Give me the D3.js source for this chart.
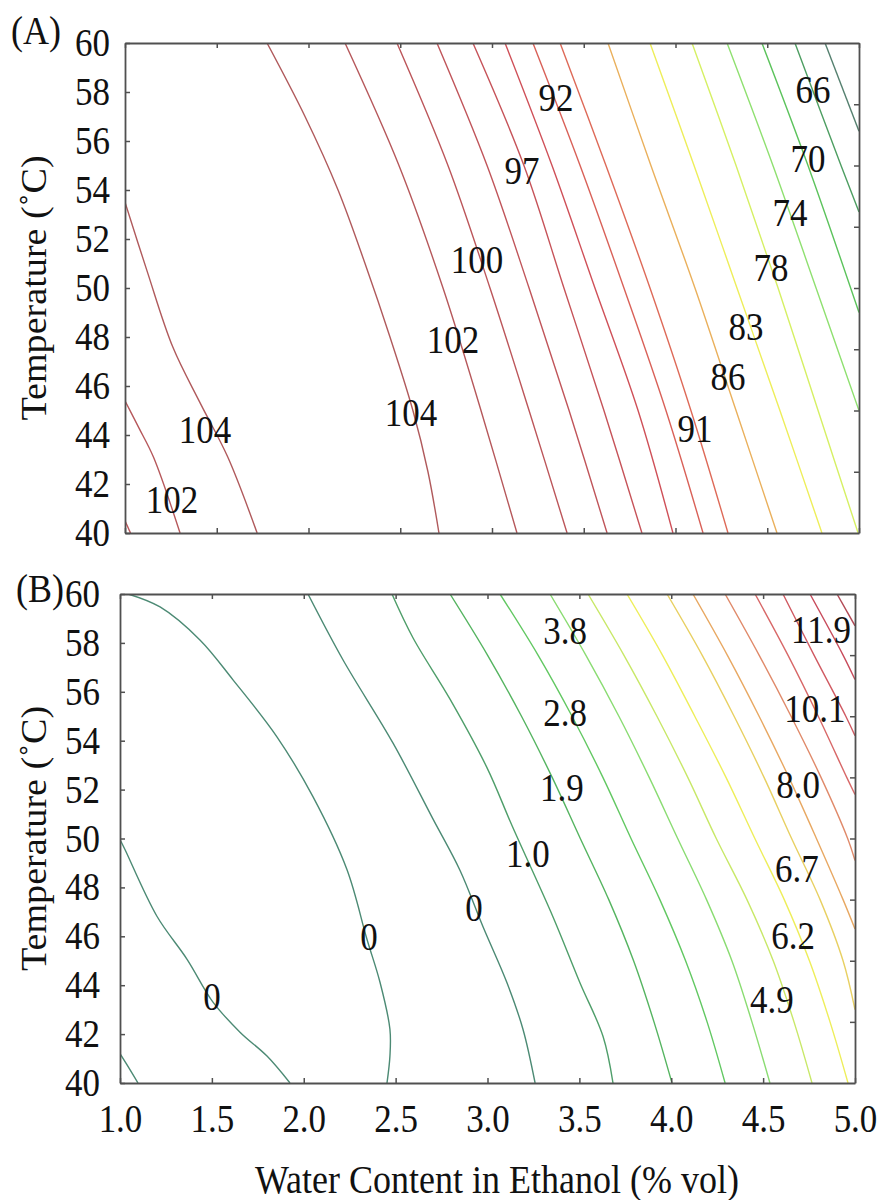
<!DOCTYPE html>
<html>
<head>
<meta charset="utf-8">
<script src="https://cdn.jsdelivr.net/npm/d3@7"></script>
<style>
  body { margin: 0; background: #fff; }
  svg { display: block; font-family: "Liberation Serif", "Times New Roman", serif; }
</style>
</head>
<body>
<svg id="chart" width="884" height="1200"></svg>
<script>
// axis ticks
const waterTicks = [1.0, 1.5, 2.0, 2.5, 3.0, 3.5, 4.0, 4.5, 5.0];
const tempTicks = [40, 42, 44, 46, 48, 50, 52, 54, 56, 58, 60];
const rightTicks = [42.5, 45, 47.5, 50, 52.5, 55, 57.5];

// (A) contour lines, points are [water content, temperature]
const contoursA = [
    { level: 100, pts: [[1.0, 40.5], [1.03, 40]] },
    { level: 102, pts: [[1.0, 45.4], [1.075, 44.3], [1.155, 43.1], [1.30, 40]] },
    { level: 104, pts: [[1.0, 53.5], [1.12, 50.7], [1.26, 47.6], [1.41, 45.3], [1.56, 43.1], [1.72, 40]] },
    { level: 104, pts: [[1.774, 60], [1.981, 57], [2.161, 54], [2.308, 51], [2.444, 48], [2.569, 45], [2.651, 42.5], [2.711, 40]] },
    { level: 102, pts: [[2.199, 60], [2.493, 55], [2.733, 50], [2.940, 45], [3.136, 40]] },
    { level: 100, pts: [[2.482, 60], [2.760, 55], [2.989, 50], [3.202, 45], [3.409, 40]] },
    { level: 99, pts: [[2.700, 60], [2.973, 55], [3.202, 50], [3.420, 45], [3.627, 40]] },
    { level: 97, pts: [[2.896, 60], [3.174, 55], [3.392, 50], [3.610, 45], [3.817, 40]] },
    { level: 94, pts: [[3.071, 60], [3.327, 55], [3.561, 50], [3.796, 45], [3.986, 40]] },
    { level: 92, pts: [[3.223, 60], [3.480, 55], [3.719, 50], [3.948, 45], [4.150, 40]] },
    { level: 91, pts: [[3.371, 60], [3.621, 55], [3.861, 50], [4.084, 45], [4.286, 40]] },
    { level: 86, pts: [[3.632, 60], [3.866, 55], [4.106, 50], [4.330, 45], [4.553, 40]] },
    { level: 83, pts: [[3.861, 60], [4.101, 55], [4.335, 50], [4.569, 45], [4.798, 40]] },
    { level: 78, pts: [[4.090, 60], [4.330, 55], [4.559, 50], [4.777, 45], [4.995, 40]] },
    { level: 74, pts: [[4.281, 60], [4.531, 55], [4.766, 50], [5.0, 45]] },
    { level: 70, pts: [[4.471, 60], [4.722, 55], [5.0, 49.0]] },
    { level: 66, pts: [[4.651, 60], [4.902, 55], [5.0, 53.1]] },
    { level: 62, pts: [[4.815, 60], [5.0, 56.4]] }
];

const labelsA = [
    { text: "92", w: 3.349, t: 57.76 },
    { text: "97", w: 3.163, t: 54.78 },
    { text: "100", w: 2.918, t: 51.14 },
    { text: "102", w: 2.787, t: 47.88 },
    { text: "104", w: 2.559, t: 44.90 },
    { text: "104", w: 1.436, t: 44.20 },
    { text: "102", w: 1.256, t: 41.35 },
    { text: "66", w: 4.749, t: 58.08 },
    { text: "70", w: 4.722, t: 55.27 },
    { text: "74", w: 4.624, t: 53.06 },
    { text: "78", w: 4.520, t: 50.82 },
    { text: "83", w: 4.384, t: 48.41 },
    { text: "86", w: 4.286, t: 46.37 },
    { text: "91", w: 4.106, t: 44.24 }
];

// (B) contour lines
const contoursB = [
    { level: 0, pts: [[1.0, 41.2], [1.05, 40.6], [1.098, 40]] },
    { level: 0, pts: [[1.0, 49.96], [1.027, 49.55], [1.201, 46.82], [1.365, 45.06], [1.506, 43.31], [1.653, 42.08], [1.8, 41.1], [1.925, 40]] },
    { level: 0, pts: [[1.044, 60], [1.218, 59.47], [1.435, 58.12], [1.615, 56.49], [1.854, 54.16], [2.050, 51.71], [2.235, 48.73], [2.344, 45.88], [2.415, 44.12], [2.469, 42.2], [2.469, 41.1], [2.453, 40]] },
    { level: 0, pts: [[2.023, 60], [2.214, 57.3], [2.486, 53.9], [2.703, 50.8], [2.850, 48.7], [2.975, 46.4], [3.106, 44.1], [3.193, 42.2], [3.259, 40]] },
    { level: 1.0, pts: [[2.480, 60], [2.595, 58.2], [2.796, 55.7], [2.997, 52.9], [3.135, 50.5], [3.356, 46.8], [3.503, 44.1], [3.629, 41.9], [3.683, 40]] },
    { level: 1.9, pts: [[2.796, 60], [3.000, 57.5], [3.185, 55], [3.352, 52.5], [3.505, 50], [3.660, 47.5], [3.795, 45], [3.906, 42.5], [4.004, 40]] },
    { level: 2.8, pts: [[3.068, 60], [3.275, 57.5], [3.460, 55], [3.628, 52.5], [3.781, 50], [3.938, 47.5], [4.078, 45], [4.195, 42.5], [4.293, 40]] },
    { level: 3.8, pts: [[3.340, 60], [3.535, 57.5], [3.715, 55], [3.880, 52.5], [4.035, 50], [4.192, 47.5], [4.330, 45], [4.439, 42.5], [4.537, 40]] },
    { level: 4.9, pts: [[3.547, 60], [3.742, 57.5], [3.922, 55], [4.090, 52.5], [4.245, 50], [4.412, 47.5], [4.555, 45], [4.668, 42.5], [4.766, 40]] },
    { level: 6.2, pts: [[3.759, 60], [3.952, 57.5], [4.128, 55], [4.298, 52.5], [4.455, 50], [4.615, 47.5], [4.752, 45], [4.864, 42.5], [4.962, 40]] },
    { level: 6.7, pts: [[3.977, 60], [4.168, 57.5], [4.342, 55], [4.505, 52.5], [4.655, 50], [4.810, 47.5], [4.935, 45], [5.0, 43]] },
    { level: 8.0, pts: [[4.118, 60], [4.305, 57.5], [4.478, 55], [4.640, 52.5], [4.790, 50], [4.935, 47.5], [5.0, 46.3]] },
    { level: 9.0, pts: [[4.293, 60], [4.478, 57.5], [4.652, 55], [4.815, 52.5], [4.960, 50], [5.0, 49.1]] },
    { level: 10.1, pts: [[4.456, 60], [4.635, 57.5], [4.800, 55], [4.955, 52.5], [5.0, 51.8]] },
    { level: 11.0, pts: [[4.608, 60], [4.777, 57.5], [4.950, 55], [5.0, 54.2]] },
    { level: 11.9, pts: [[4.755, 60], [4.935, 57.5], [5.0, 56.5]] },
    { level: 12.8, pts: [[4.902, 60], [5.0, 58.7]] }
];

const labelsB = [
    { text: "3.8", w: 3.422, t: 58.49 },
    { text: "2.8", w: 3.422, t: 55.14 },
    { text: "1.9", w: 3.405, t: 52.08 },
    { text: "1.0", w: 3.220, t: 49.35 },
    { text: "0", w: 2.927, t: 47.14 },
    { text: "0", w: 2.355, t: 45.96 },
    { text: "0", w: 1.501, t: 43.51 },
    { text: "11.9", w: 4.815, t: 58.53 },
    { text: "10.1", w: 4.782, t: 55.31 },
    { text: "8.0", w: 4.690, t: 52.20 },
    { text: "6.7", w: 4.684, t: 48.73 },
    { text: "6.2", w: 4.663, t: 46.00 },
    { text: "4.9", w: 4.548, t: 43.39 }
];

// colour maps (level -> line colour)
const colorA = d3.scaleLinear()
    .domain([62, 66, 70, 74, 78, 83, 86, 91, 94, 104])
    .range(["#55806f", "#4e9e62", "#5cc35c", "#8fe070", "#d6f064", "#eeee5a", "#eab05c", "#de6a58", "#cf5058", "#b05a5c"]);

const colorB = d3.scaleLinear()
    .domain([0, 1.0, 1.9, 2.8, 3.8, 4.9, 6.2, 6.7, 8.0, 9.0, 10.1, 11.9, 12.8])
    .range(["#4c8a74", "#4f9e6a", "#55b460", "#62c862", "#8adc72", "#c8e868", "#eeee5a", "#e8d062", "#e8a862", "#e08a6a", "#d86868", "#c84c5c", "#b24a56"]);

// the figure's lettering is a little taller than it is wide
const stretch = 1.12;
const serif = "\"Liberation Serif\", \"Times New Roman\", serif";

const svg = d3.select("#chart");

function drawPanel(cfg) {
    const x = d3.scaleLinear().domain([1, 5]).range([cfg.left, cfg.right]);
    const y = d3.scaleLinear().domain([40, 60]).range([cfg.bottom, cfg.top]);
    const g = svg.append("g");

    g.append("clipPath").attr("id", cfg.id + "-clip")
        .append("rect")
        .attr("x", cfg.left).attr("y", cfg.top)
        .attr("width", cfg.right - cfg.left).attr("height", cfg.bottom - cfg.top);

    // contour lines
    const line = d3.line()
        .x(d => x(d[0]))
        .y(d => y(d[1]))
        .curve(d3.curveCatmullRom.alpha(0.5));

    g.append("g")
        .attr("clip-path", `url(#${cfg.id}-clip)`)
        .selectAll("path")
        .data(cfg.contours)
        .enter().append("path")
        .attr("d", d => line(d.pts))
        .attr("fill", "none")
        .attr("stroke", d => cfg.color(d.level))
        .attr("stroke-width", 1.4);

    // contour labels
    g.append("g")
        .selectAll("text")
        .data(cfg.labels)
        .enter().append("text")
        .attr("transform", d => `translate(${x(d.w)},${y(d.t)}) scale(1,${stretch})`)
        .attr("dy", "0.33em")
        .attr("text-anchor", "middle")
        .attr("font-size", 35)
        .attr("fill", "#111")
        .text(d => d.text);

    // axes, ticks pointing inwards
    const left = g.append("g")
        .attr("transform", `translate(${cfg.left},0)`)
        .call(d3.axisLeft(y).tickValues(tempTicks).tickSize(-5).tickSizeOuter(0).tickPadding(cfg.yPad).tickFormat(d3.format("d")));
    const right = g.append("g")
        .attr("transform", `translate(${cfg.right},0)`)
        .call(d3.axisRight(y).tickValues(rightTicks).tickSize(-5).tickSizeOuter(0).tickFormat(""));
    const top = g.append("g")
        .attr("transform", `translate(0,${cfg.top})`)
        .call(d3.axisTop(x).tickValues(waterTicks).tickSize(-5).tickSizeOuter(0).tickFormat(""));
    const bottom = g.append("g")
        .attr("transform", `translate(0,${cfg.bottom})`)
        .call(d3.axisBottom(x).tickValues(waterTicks).tickSize(-5).tickSizeOuter(0).tickPadding(19)
            .tickFormat(cfg.xLabels ? d3.format(".1f") : ""));

    [left, right, top, bottom].forEach(a => {
        a.attr("font-family", serif);
        a.select(".domain").attr("stroke", "#505050").attr("stroke-width", 1.8);
        a.selectAll(".tick line").attr("stroke", "#505050").attr("stroke-width", 1.5);
        a.selectAll("text")
            .attr("font-family", serif)
            .attr("font-size", 35)
            .attr("fill", "#111")
            .attr("transform", `scale(1,${stretch})`);
    });

    // y axis title
    g.append("text")
        .attr("transform", `translate(46,${(cfg.top + cfg.bottom) / 2}) rotate(-90) scale(1.06,1)`)
        .attr("text-anchor", "middle")
        .attr("font-size", 36)
        .attr("fill", "#111")
        .text("Temperature (˚C)");

    // panel letter
    g.append("text")
        .attr("transform", `translate(${cfg.tagX},${cfg.tagY}) scale(1,${stretch})`)
        .attr("font-size", 36)
        .attr("fill", "#111")
        .text(cfg.tag);
}

drawPanel({ id: "a", tag: "(A)", tagX: 11, tagY: 44, left: 125, right: 859, top: 43, bottom: 533,
    yPad: 15, xLabels: false, contours: contoursA, labels: labelsA, color: colorA });

drawPanel({ id: "b", tag: "(B)", tagX: 16, tagY: 602, left: 120, right: 855, top: 594, bottom: 1083,
    yPad: 20, xLabels: true, contours: contoursB, labels: labelsB, color: colorB });

// x axis title
svg.append("text")
    .attr("transform", `translate(497,1193) scale(1,${stretch})`)
    .attr("text-anchor", "middle")
    .attr("font-size", 36)
    .attr("fill", "#111")
    .text("Water Content in Ethanol (% vol)");
</script>
</body>
</html>
